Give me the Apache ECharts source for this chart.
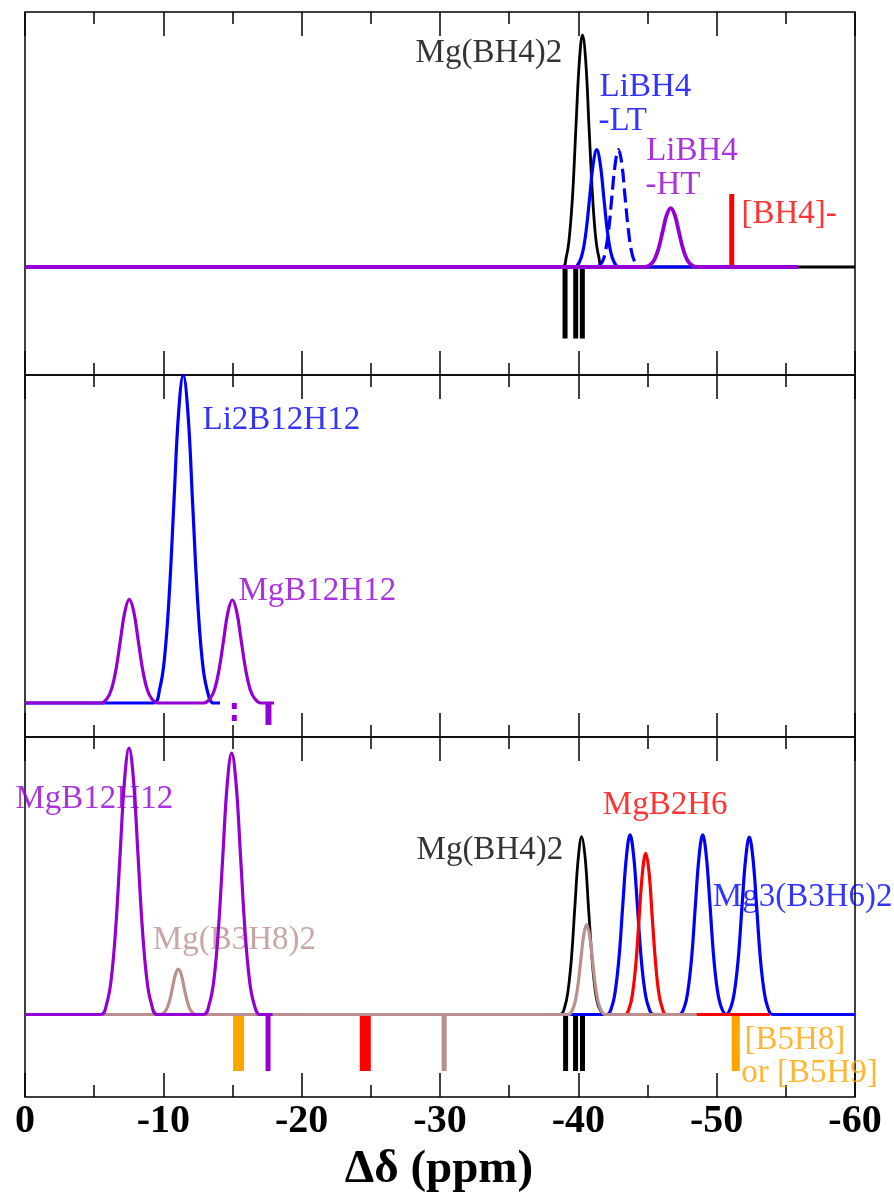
<!DOCTYPE html>
<html><head><meta charset="utf-8">
<script src="https://cdn.jsdelivr.net/npm/echarts@6/dist/echarts.min.js"></script>
<style>html,body{margin:0;padding:0;background:#fff}#c{width:894px;height:1199px}</style>
</head><body><div id="c"></div>
<script>
// ---------- DATA (x = Δδ in ppm, y = relative intensity; baseline = 0) ----------
const xTickValues = [0, -10, -20, -30, -40, -50, -60];

// Panel 1
const p1_MgBH4 = [[0,0],[-38.8,0],[-39.13,0.04],[-39.36,0.123],[-39.6,0.295],[-39.83,0.552],[-40.07,0.803],[-40.3,0.91],[-40.54,0.803],[-40.77,0.552],[-41.01,0.295],[-41.24,0.123],[-41.48,0.04],[-41.8,0],[-60,0]];
const p1_LiBH4_LT = [[0,0],[-39.73,0],[-40.08,0.02],[-40.33,0.062],[-40.58,0.149],[-40.83,0.279],[-41.08,0.406],[-41.33,0.46],[-41.58,0.406],[-41.83,0.279],[-42.08,0.149],[-42.33,0.062],[-42.58,0.02],[-42.93,0],[-48.5,0]];
const p1_LiBH4_LT_alt = [[-41.4,0],[-41.73,0.02],[-41.96,0.062],[-42.2,0.149],[-42.43,0.279],[-42.67,0.406],[-42.9,0.46],[-43.14,0.406],[-43.37,0.279],[-43.61,0.149],[-43.84,0.062],[-44.08,0.02],[-44.4,0]];
const p1_LiBH4_HT = [[0,0],[-44.82,0],[-45.23,0.01],[-45.52,0.031],[-45.81,0.075],[-46.1,0.14],[-46.39,0.204],[-46.68,0.231],[-46.97,0.204],[-47.26,0.14],[-47.55,0.075],[-47.84,0.031],[-48.13,0.01],[-48.54,0],[-55.9,0]];
const p1_BH4_sticks = [[-51.09, 0.286]];
const p1_MgBH4_sticks = [[-39.04,-0.28],[-39.81,-0.28],[-40.29,-0.28]];

// Panel 2
const p2_Li2B12H12 = [[0,0],[-9.26,0],[-9.74,0.044],[-10.08,0.135],[-10.42,0.325],[-10.76,0.607],[-11.1,0.883],[-11.44,1.0],[-11.78,0.883],[-12.12,0.607],[-12.46,0.325],[-12.8,0.135],[-13.14,0.044],[-13.62,0],[-14.1,0]];
const p2_MgB12H12 = [[0,0],[-5.49,0],[-5.94,0.014],[-6.26,0.043],[-6.58,0.103],[-6.9,0.192],[-7.22,0.279],[-7.54,0.316],[-7.86,0.279],[-8.18,0.192],[-8.5,0.103],[-8.82,0.043],[-9.14,0.014],[-9.59,0],[-12.94,0],[-13.39,0.014],[-13.71,0.042],[-14.03,0.102],[-14.35,0.19],[-14.67,0.277],[-14.99,0.314],[-15.31,0.277],[-15.63,0.19],[-15.95,0.102],[-16.27,0.042],[-16.59,0.014],[-17.04,0],[-18.0,0]];
const p2_MgB12H12_sticks = [[-17.6,-0.067]];
const p2_MgB12H12_sticks_alt = [[-15.13,-0.067]];

// Panel 3
const p3_MgB12H12 = [[0,0],[-5.47,0],[-5.92,0.042],[-6.24,0.13],[-6.56,0.312],[-6.88,0.582],[-7.2,0.847],[-7.52,0.96],[-7.84,0.847],[-8.16,0.582],[-8.48,0.312],[-8.8,0.13],[-9.12,0.042],[-9.57,0],[-12.89,0],[-13.34,0.041],[-13.66,0.127],[-13.98,0.306],[-14.3,0.571],[-14.62,0.831],[-14.94,0.942],[-15.26,0.831],[-15.58,0.571],[-15.9,0.306],[-16.22,0.127],[-16.54,0.041],[-16.99,0],[-17.9,0]];
const p3_MgB3H8 = [[0,0],[-9.77,0],[-10.06,0.007],[-10.26,0.022],[-10.47,0.053],[-10.67,0.099],[-10.88,0.145],[-11.08,0.164],[-11.29,0.145],[-11.49,0.099],[-11.7,0.053],[-11.9,0.022],[-12.11,0.007],[-12.39,0],[-39.26,0],[-39.55,0.014],[-39.76,0.044],[-39.97,0.105],[-40.18,0.197],[-40.39,0.286],[-40.6,0.324],[-40.81,0.286],[-41.02,0.197],[-41.23,0.105],[-41.44,0.044],[-41.65,0.014],[-41.94,0],[-48.56,0]];
const p3_MgBH4 = [[0,0],[-38.67,0],[-39.02,0.028],[-39.26,0.087],[-39.51,0.208],[-39.75,0.389],[-40.0,0.566],[-40.24,0.641],[-40.49,0.566],[-40.73,0.389],[-40.98,0.208],[-41.22,0.087],[-41.47,0.028],[-41.81,0]];
const p3_Mg3B3H6 = [[0,0],[-42.04,0],[-42.42,0.028],[-42.68,0.088],[-42.95,0.21],[-43.21,0.392],[-43.48,0.571],[-43.74,0.647],[-44.0,0.571],[-44.27,0.392],[-44.53,0.21],[-44.8,0.088],[-45.07,0.028],[-45.44,0],[-47.29,0],[-47.67,0.028],[-47.93,0.088],[-48.2,0.21],[-48.46,0.392],[-48.73,0.571],[-48.99,0.647],[-49.25,0.571],[-49.52,0.392],[-49.78,0.21],[-50.05,0.088],[-50.32,0.028],[-50.68,0],[-51.04,0.028],[-51.3,0.087],[-51.57,0.207],[-51.83,0.388],[-52.1,0.564],[-52.36,0.639],[-52.62,0.564],[-52.89,0.388],[-53.15,0.207],[-53.42,0.087],[-53.68,0.028],[-54.06,0],[-60,0]];
const p3_MgB2H6 = [[-41.8,0],[-43.37,0],[-43.7,0.026],[-43.93,0.079],[-44.17,0.189],[-44.4,0.352],[-44.64,0.513],[-44.87,0.581],[-45.11,0.513],[-45.34,0.352],[-45.58,0.189],[-45.81,0.079],[-46.05,0.026],[-46.37,0],[-53.86,0]];
const p3_B5H8_sticks = [[-15.44,-0.204],[-51.38,-0.204]];
const p3_MgB12H12_sticks = [[-17.57,-0.204]];
const p3_MgB2H6_sticks = [[-24.6,-0.204]];
const p3_MgB3H8_sticks = [[-30.3,-0.204]];
const p3_MgBH4_sticks = [[-39.08,-0.204],[-39.8,-0.204],[-40.3,-0.204]];

// Text labels: [text, x (ppm), y (intensity)]
const p1_labels = [["Mg(BH4)2",-28.27,0.835],["LiBH4",-41.57,0.701],["-LT",-41.5,0.57],["LiBH4",-44.94,0.45],["-HT",-44.89,0.319],["[BH4]-",-51.83,0.204]];
const p2_labels = [["Li2B12H12",-12.87,0.86],["MgB12H12",-15.47,0.3375]];
const p3_labels = [["MgB12H12",0.65,0.774],["Mg(B3H8)2",-9.28,0.266],["Mg(BH4)2",-28.34,0.59],["MgB2H6",-41.81,0.752],["Mg3(B3H6)2",-49.76,0.422],["[B5H8]",-52.05,-0.094],["or [B5H9]",-51.81,-0.214]];
const xAxisTitle = "Δδ (ppm)";

// ---------- STYLE / LAYOUT ----------
const C = {black:'#000000', blue:'#0000ff', purple:'#9400d3', red:'#ff0000', brown:'#bc8f8f', orange:'#ffa500'};
const FONT = "'Liberation Serif', 'DejaVu Serif', serif";
const grids = [
  {left:25, right:39, top:12, height:363},
  {left:25, right:39, top:375, height:362},
  {left:25, right:39, top:737, height:360}
];
const yRanges = [[-0.4235,1],[-0.1037,1],[-0.2973,1]];

function xAx(gi, pos, labels){
  return {
    gridIndex: gi, type:'value', position: pos, min:-60, max:0, interval:10, inverse:true,
    axisLine:{show:false, onZero:false},
    axisTick:{show:true, inside:true, length:24, lineStyle:{color:'#000', width:1.5}},
    minorTick:{show:true, splitNumber:2, length:12, lineStyle:{color:'#000', width:1.5}},
    splitLine:{show:false}, minorSplitLine:{show:false},
    axisLabel: labels ? {show:true, margin:5, color:'#000', fontFamily:FONT, fontWeight:'bold', fontSize:40,
      customValues: xTickValues, formatter: v => String(v)} : {show:false}
  };
}
function curve(gi, data, color, width, dash){
  return {type:'line', xAxisIndex:gi*2, yAxisIndex:gi, data, smooth:0.4, symbol:'none', silent:true,
    lineStyle:{color, width, type: dash || 'solid', cap:'butt', join:'round'}, animation:false};
}
function sticks(gi, arr, color, width, dash){
  return arr.map(p => ({type:'line', xAxisIndex:gi*2, yAxisIndex:gi, data:[[p[0],0],[p[0],p[1]]],
    symbol:'none', silent:true, animation:false,
    lineStyle:{color, width, type: dash || 'solid', cap:'butt'}}));
}
function labels(gi, arr, colors){
  return {type:'scatter', xAxisIndex:gi*2, yAxisIndex:gi, clip:false, silent:true, animation:false,
    symbolSize:1, itemStyle:{color:'transparent'},
    data: arr.map((l,i) => ({name:l[0], value:[l[1], l[2]],
      label:{show:true, formatter:'{b}', position:[0,0], align:'left', verticalAlign:'middle',
        color: colors[i], fontFamily:FONT, fontSize:33}}))};
}

const series = [
  // panel 1
  curve(0, p1_MgBH4, C.black, 2.8),
  curve(0, p1_LiBH4_LT, C.blue, 3.2),
  curve(0, p1_LiBH4_LT_alt, C.blue, 3.2, [14,6]),
  ...sticks(0, p1_BH4_sticks, C.red, 5),
  ...sticks(0, p1_MgBH4_sticks, C.black, 5),
  curve(0, p1_LiBH4_HT, C.purple, 3.8),
  labels(0, p1_labels, [C.black, C.blue, C.blue, C.purple, C.purple, C.red]),
  // panel 2
  ...sticks(1, p2_MgB12H12_sticks, C.purple, 6),
  ...sticks(1, p2_MgB12H12_sticks_alt, C.purple, 5, [6,6]),
  curve(1, p2_Li2B12H12, C.blue, 3.2),
  curve(1, p2_MgB12H12, C.purple, 3.2),
  labels(1, p2_labels, [C.blue, C.purple]),
  // panel 3
  ...sticks(2, p3_B5H8_sticks.slice(0,1), C.orange, 11),
  ...sticks(2, p3_B5H8_sticks.slice(1), C.orange, 8),
  ...sticks(2, p3_MgB12H12_sticks, C.purple, 5),
  ...sticks(2, p3_MgB2H6_sticks, C.red, 11),
  ...sticks(2, p3_MgB3H8_sticks, C.brown, 5),
  ...sticks(2, p3_MgBH4_sticks, C.black, 5),
  curve(2, p3_Mg3B3H6, C.blue, 3.2),
  curve(2, p3_MgBH4, C.black, 2.8),
  curve(2, p3_MgB2H6, C.red, 3.2),
  curve(2, p3_MgB3H8, C.brown, 3.2),
  curve(2, p3_MgB12H12, C.purple, 3.2),
  labels(2, p3_labels, [C.purple, C.brown, C.black, C.red, C.blue, C.orange, C.orange])
];

const chart = echarts.init(document.getElementById('c'), null, {renderer:'canvas', width:894, height:1199});
chart.setOption({
  animation:false,
  backgroundColor:'#ffffff',
  grid: grids.map(g => Object.assign({show:true, borderColor:'#000', borderWidth:1.5, backgroundColor:'transparent', containLabel:false}, g)),
  xAxis: [0,1,2].flatMap(i => [xAx(i,'bottom', i===2), xAx(i,'top', false)]),
  yAxis: yRanges.map((r,i) => ({gridIndex:i, type:'value', min:r[0], max:r[1], show:false, splitLine:{show:false}})),
  series,
  graphic:[{type:'text', x:439, y:1170, silent:true,
    style:{text:xAxisTitle, fill:'#000', fontFamily:FONT, fontWeight:'bold', fontSize:47, align:'center', verticalAlign:'middle'}}]
});
</script></body></html>
